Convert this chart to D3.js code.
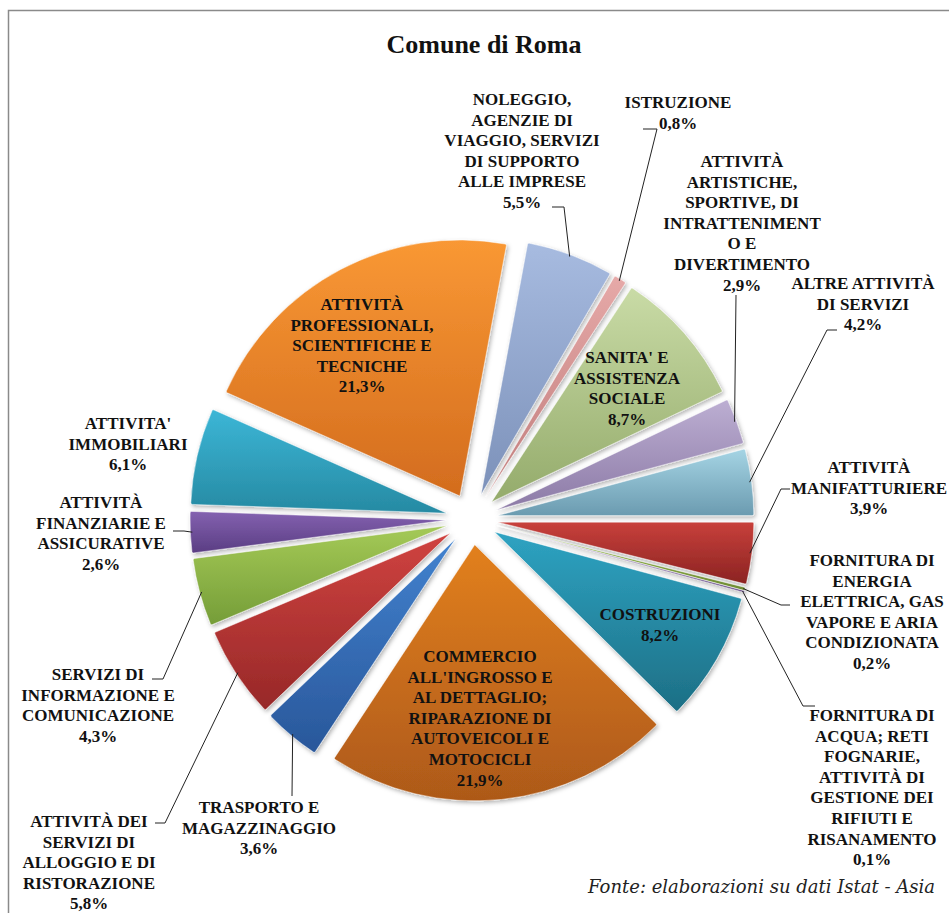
<!DOCTYPE html>
<html>
<head>
<meta charset="utf-8">
<script src="https://cdn.jsdelivr.net/npm/d3@7"></script>
<style>
  html, body { margin: 0; padding: 0; background: #fff; }
  svg { display: block; }
  .lbl { font-family: "Liberation Serif", "Times New Roman", serif; font-weight: bold; font-size: 17px; fill: #111; }
</style>
</head>
<body>
<svg id="chart" width="949" height="913"></svg>
<script>
// Imprese per sezione di attività economica (ATECO), quota percentuale
const sectors = [
  ["ATTIVITÀ", "MANIFATTURIERE"],
  ["FORNITURA DI", "ENERGIA", "ELETTRICA, GAS", "VAPORE E ARIA", "CONDIZIONATA"],
  ["FORNITURA DI", "ACQUA; RETI", "FOGNARIE,", "ATTIVITÀ DI", "GESTIONE DEI", "RIFIUTI E", "RISANAMENTO"],
  ["COSTRUZIONI"],
  ["COMMERCIO", "ALL'INGROSSO E", "AL DETTAGLIO;", "RIPARAZIONE DI", "AUTOVEICOLI E", "MOTOCICLI"],
  ["TRASPORTO E", "MAGAZZINAGGIO"],
  ["ATTIVITÀ DEI", "SERVIZI DI", "ALLOGGIO E DI", "RISTORAZIONE"],
  ["SERVIZI DI", "INFORMAZIONE E", "COMUNICAZIONE"],
  ["ATTIVITÀ", "FINANZIARIE E", "ASSICURATIVE"],
  ["ATTIVITA'", "IMMOBILIARI"],
  ["ATTIVITÀ", "PROFESSIONALI,", "SCIENTIFICHE E", "TECNICHE"],
  ["NOLEGGIO,", "AGENZIE DI", "VIAGGIO, SERVIZI", "DI SUPPORTO", "ALLE IMPRESE"],
  ["ISTRUZIONE"],
  ["SANITA' E", "ASSISTENZA", "SOCIALE"],
  ["ATTIVITÀ", "ARTISTICHE,", "SPORTIVE, DI", "INTRATTENIMENT", "O E", "DIVERTIMENTO"],
  ["ALTRE ATTIVITÀ", "DI SERVIZI"]
];
const shares = [3.9, 0.2, 0.1, 8.2, 21.9, 3.6, 5.8, 4.3, 2.6, 6.1, 21.3, 5.5, 0.8, 8.7, 2.9, 4.2];

// fill gradients: light (top) and dark (bottom) tone of each slice
const lightTones = ["#c8403b", "#a6c95a", "#8a69b3", "#2ea3c2", "#e2801f", "#4282cf", "#d04340", "#a5ca57", "#8462b0", "#3cb6d6", "#f99834", "#a7bbe0", "#e6a9a8", "#c9dba6", "#bcaed2", "#a5d4e4"];
const darkTones  = ["#8b2322", "#6f8d33", "#5a3e7e", "#1d6f85", "#ad5919", "#29579a", "#972828", "#759d38", "#5a3d83", "#268aa3", "#d36c1e", "#7c91b9", "#c07d7c", "#94ab6b", "#8c7aa6", "#6b9bb0"];

// label layout: centre x, first baseline, leader polyline (label side first)
const labelPos = [
  { x: 869, y: 473, leader: [[790, 489], [781, 489]] },
  { x: 872, y: 566, leader: [[790, 605], [781, 605]] },
  { x: 872, y: 721, leader: [[815, 706], [803, 706]] },
  { x: 660, y: 620 },
  { x: 480, y: 662 },
  { x: 259, y: 813, leader: [[292, 796]] },
  { x: 89,  y: 827, leader: [[155, 823], [165, 823]] },
  { x: 98,  y: 680, leader: [[152, 679], [163, 679]] },
  { x: 101, y: 508, leader: [[173, 531], [184, 531]] },
  { x: 128, y: 429 },
  { x: 362, y: 310 },
  { x: 522, y: 105, leader: [[552, 207], [564, 207]] },
  { x: 678, y: 108, leader: [[643, 129], [657, 129]] },
  { x: 627, y: 363 },
  { x: 742, y: 167, leader: [[736, 295]] },
  { x: 863, y: 289, leader: [[837, 330], [827, 330]] }
];

const W = 949, H = 913;
const cx = 472, cy = 519, radius = 256, explode = 26, lineH = 20.6;
const fmtPct = v => d3.format(".1f")(v).replace(".", ",") + "%";

const svg = d3.select("#chart");
const defs = svg.append("defs");

const shadow = defs.append("filter").attr("id", "sliceShadow")
  .attr("x", "-10%").attr("y", "-10%").attr("width", "120%").attr("height", "120%");
shadow.append("feDropShadow").attr("dx", 1.5).attr("dy", 2).attr("stdDeviation", 2)
  .attr("flood-color", "#000").attr("flood-opacity", 0.3);

shares.forEach((_, i) => {
  const g = defs.append("linearGradient").attr("id", "grad" + i)
    .attr("x1", 0).attr("y1", 0).attr("x2", 0).attr("y2", 1);
  g.append("stop").attr("offset", "0%").attr("stop-color", lightTones[i]);
  g.append("stop").attr("offset", "100%").attr("stop-color", darkTones[i]);
});

// chart frame
svg.append("rect").attr("x", 8.5).attr("y", 10.5).attr("width", W).attr("height", H)
  .attr("fill", "none").attr("stroke", "#8a8a8a").attr("stroke-width", 1.5);

svg.append("text").attr("x", 484).attr("y", 53).attr("text-anchor", "middle")
  .style("font-family", "'Liberation Serif', 'Times New Roman', serif")
  .style("font-weight", "bold").style("font-size", "26px").attr("fill", "#111")
  .text("Comune di Roma");

// first slice starts at 3 o'clock, running clockwise
const pie = d3.pie().sort(null).value(d => d)
  .startAngle(Math.PI / 2).endAngle(Math.PI / 2 + 2 * Math.PI);
const arcs = pie(shares);
const arc = d3.arc().innerRadius(0).outerRadius(radius).cornerRadius(1.5);

const midAngle = d => (d.startAngle + d.endAngle) / 2;
const offset = (d, r) => [Math.sin(midAngle(d)) * r, -Math.cos(midAngle(d)) * r];

const slices = svg.append("g").attr("transform", `translate(${cx},${cy})`);
slices.selectAll("path").data(arcs).join("path")
  .attr("transform", d => { const o = offset(d, explode); return `translate(${o[0]},${o[1]})`; })
  .attr("d", arc)
  .attr("fill", (d, i) => `url(#grad${i})`)
  .attr("stroke", "rgba(255,255,255,0.6)").attr("stroke-width", 0.8)
  .attr("filter", "url(#sliceShadow)");

// leader lines from each outside label to the rim of its slice
const leaders = svg.append("g").attr("fill", "none").attr("stroke", "#222").attr("stroke-width", 1);
arcs.forEach((d, i) => {
  const lp = labelPos[i];
  if (!lp.leader) return;
  const o = offset(d, explode + radius - 2);
  const pts = lp.leader.concat([[cx + o[0], cy + o[1]]]);
  leaders.append("path").attr("d", d3.line()(pts));
});

// labels
const labels = svg.append("g");
arcs.forEach((d, i) => {
  const lp = labelPos[i];
  const lines = sectors[i].concat([fmtPct(shares[i])]);
  const t = labels.append("text").attr("class", "lbl").attr("text-anchor", "middle");
  lines.forEach((s, k) => {
    t.append("tspan").attr("x", lp.x).attr("y", lp.y + k * lineH).text(s);
  });
});

svg.append("text").attr("x", 935).attr("y", 893).attr("text-anchor", "end")
  .style("font-family", "'DejaVu Serif', serif").style("font-style", "italic")
  .style("font-size", "18px").attr("fill", "#222")
  .text("Fonte: elaborazioni su dati Istat - Asia");
</script>
</body>
</html>
